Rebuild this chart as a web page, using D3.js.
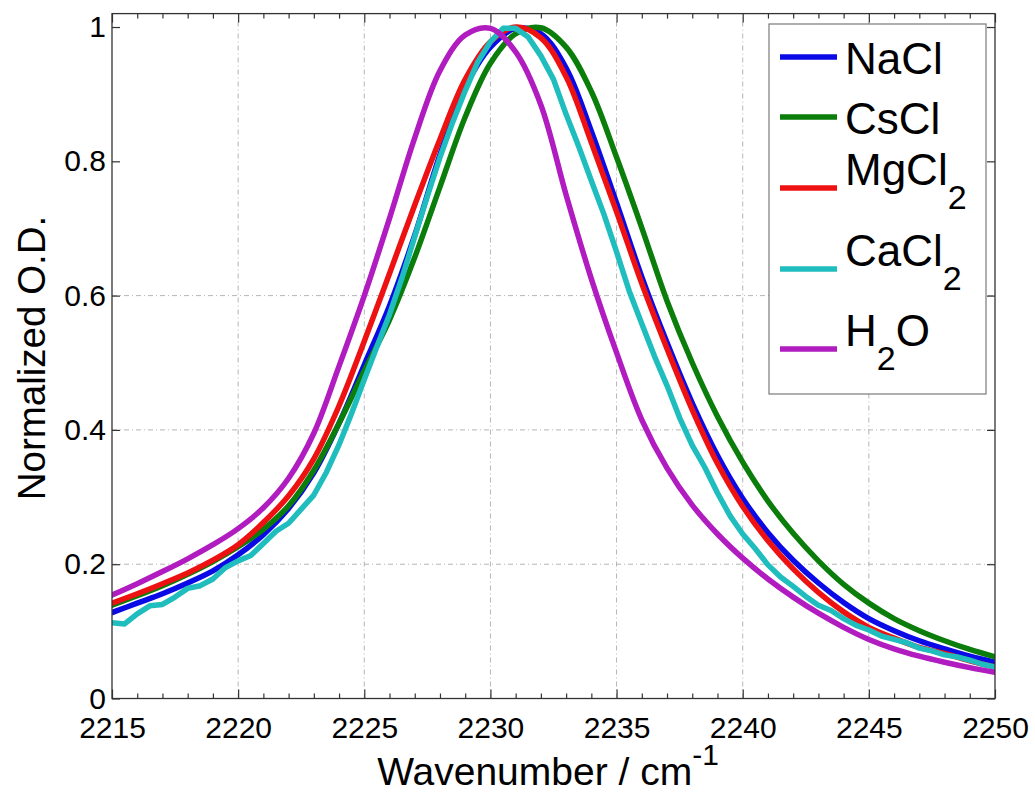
<!DOCTYPE html>
<html>
<head>
<meta charset="utf-8">
<script src="https://cdn.jsdelivr.net/npm/d3@7"></script>
<style>
  body { margin: 0; background: #fff; }
  text { font-family: "Liberation Sans", Arial, Helvetica, sans-serif; fill: #000; }
</style>
</head>
<body>
<div id="chart"></div>
<script>
// wavenumber grid (cm^-1) for the smooth spectra
var wavenumber = [2215, 2216, 2217, 2218, 2219, 2220, 2221, 2222, 2223, 2224,
                  2225, 2226, 2227, 2228, 2229, 2230, 2231, 2232, 2233, 2234,
                  2235, 2236, 2237, 2238, 2239, 2240, 2241, 2242, 2243, 2244,
                  2245, 2246, 2247, 2248, 2249, 2250];

// the CaCl2 spectrum is noisier, read at half steps
var cacl2Wavenumber = [2215, 2215.5, 2216, 2216.5, 2217, 2217.5, 2218, 2218.5, 2219, 2219.5,
                       2220, 2220.5, 2221, 2221.5, 2222, 2222.5, 2223, 2223.5, 2224, 2224.5,
                       2225, 2225.5, 2226, 2226.5, 2227, 2227.5, 2228, 2228.5, 2229, 2229.5,
                       2230, 2230.5, 2231, 2231.5, 2232, 2232.5, 2233, 2233.5, 2234, 2234.5,
                       2235, 2235.5, 2236, 2236.5, 2237, 2237.5, 2238, 2238.5, 2239, 2239.5,
                       2240, 2240.5, 2241, 2241.5, 2242, 2242.5, 2243, 2243.5, 2244, 2244.5,
                       2245, 2245.5, 2246, 2246.5, 2247, 2247.5, 2248, 2248.5, 2249, 2249.5,
                       2250];

var naclOD = [0.128, 0.142, 0.156, 0.172, 0.190, 0.214, 0.244, 0.283, 0.336, 0.410,
              0.497, 0.585, 0.690, 0.810, 0.910, 0.970, 0.998, 0.990, 0.939, 0.845,
              0.738, 0.628, 0.530, 0.440, 0.362, 0.298, 0.247, 0.206, 0.172, 0.143,
              0.119, 0.101, 0.086, 0.074, 0.063, 0.054];

var csclOD = [0.139, 0.153, 0.168, 0.185, 0.204, 0.226, 0.252, 0.287, 0.340, 0.410,
              0.488, 0.564, 0.657, 0.762, 0.866, 0.946, 0.990, 0.999, 0.970, 0.904,
              0.806, 0.701, 0.592, 0.500, 0.420, 0.352, 0.294, 0.246, 0.205, 0.170,
              0.142, 0.119, 0.101, 0.086, 0.073, 0.062];

var mgcl2OD = [0.142, 0.156, 0.171, 0.187, 0.206, 0.229, 0.262, 0.302, 0.357, 0.436,
               0.532, 0.633, 0.735, 0.833, 0.922, 0.978, 1.000, 0.984, 0.926, 0.828,
               0.725, 0.618, 0.521, 0.430, 0.350, 0.286, 0.235, 0.193, 0.158, 0.129,
               0.106, 0.090, 0.076, 0.067, 0.056, 0.047];

var cacl2OD = [0.113, 0.111, 0.126, 0.138, 0.140, 0.151, 0.164, 0.168, 0.178, 0.195,
               0.205, 0.213, 0.231, 0.249, 0.261, 0.282, 0.303, 0.337, 0.378, 0.425,
               0.475, 0.524, 0.572, 0.627, 0.688, 0.748, 0.806, 0.858, 0.905, 0.948,
               0.978, 0.998, 0.998, 0.985, 0.957, 0.922, 0.870, 0.822, 0.771, 0.721,
               0.665, 0.607, 0.558, 0.510, 0.466, 0.418, 0.377, 0.344, 0.306, 0.272,
               0.245, 0.223, 0.199, 0.181, 0.167, 0.152, 0.139, 0.131, 0.119, 0.109,
               0.102, 0.093, 0.088, 0.083, 0.075, 0.071, 0.065, 0.062, 0.057, 0.051,
               0.047];

var h2oOD = [0.154, 0.171, 0.189, 0.208, 0.229, 0.253, 0.284, 0.328, 0.395, 0.495,
             0.600, 0.715, 0.835, 0.935, 0.988, 0.998, 0.963, 0.884, 0.750, 0.625,
             0.515, 0.415, 0.343, 0.288, 0.245, 0.209, 0.178, 0.151, 0.127, 0.106,
             0.088, 0.074, 0.063, 0.054, 0.046, 0.039];

var xMajorTicks = [2215, 2220, 2225, 2230, 2235, 2240, 2245, 2250];
var xGridTicks = [2220, 2225, 2230, 2235, 2240, 2245];
var yTicks = [0, 0.2, 0.4, 0.6, 0.8, 1];
var yTickLabels = ["0", "0.2", "0.4", "0.6", "0.8", "1"];
var yGridTicks = [0.2, 0.4, 0.6];

// legend text: [main, subscript, tail]
var seriesLabels = [["NaCl", "", ""], ["CsCl", "", ""], ["MgCl", "2", ""], ["CaCl", "2", ""], ["H", "2", "O"]];
var seriesColors = ["#0a0ae6", "#0a7d0a", "#ee1111", "#1fbdbd", "#b01cc0"];

// Setup
var width = 1035;
var height = 799;

var x = d3.scaleLinear().domain([2215, 2250]).range([112, 995]);
var y = d3.scaleLinear().domain([0, 1.02]).range([698.5, 13.6]);

var svg = d3.select("#chart")
    .append("svg")
    .attr("width", width)
    .attr("height", height);

svg.append("rect").attr("width", width).attr("height", height).attr("fill", "#fff");

// grid
var grid = svg.append("g").attr("class", "grid")
    .attr("stroke", "#b5b5b5")
    .attr("stroke-width", 1)
    .attr("stroke-dasharray", "5,3,1,3");

grid.selectAll(".vgrid").data(xGridTicks).enter()
    .append("line")
    .attr("x1", function(d) { return x(d); })
    .attr("x2", function(d) { return x(d); })
    .attr("y1", y(0))
    .attr("y2", y(1.02));

grid.selectAll(".hgrid").data(yGridTicks).enter()
    .append("line")
    .attr("x1", x(2215))
    .attr("x2", x(2250))
    .attr("y1", function(d) { return y(d); })
    .attr("y2", function(d) { return y(d); });

// spectra
var series = [
    { xs: wavenumber, ys: naclOD, curve: d3.curveCatmullRom.alpha(0.5) },
    { xs: wavenumber, ys: csclOD, curve: d3.curveCatmullRom.alpha(0.5) },
    { xs: wavenumber, ys: mgcl2OD, curve: d3.curveCatmullRom.alpha(0.5) },
    { xs: cacl2Wavenumber, ys: cacl2OD, curve: d3.curveLinear },
    { xs: wavenumber, ys: h2oOD, curve: d3.curveCatmullRom.alpha(0.5) }
];

svg.append("clipPath").attr("id", "plotclip")
    .append("rect")
    .attr("x", x(2215)).attr("y", y(1.02))
    .attr("width", x(2250) - x(2215)).attr("height", y(0) - y(1.02));

var lines = svg.append("g").attr("clip-path", "url(#plotclip)");

series.forEach(function(s, i) {
    var pts = s.xs.map(function(v, j) { return [v, s.ys[j]]; });
    var line = d3.line()
        .x(function(d) { return x(d[0]); })
        .y(function(d) { return y(d[1]); })
        .curve(s.curve);
    lines.append("path")
        .attr("d", line(pts))
        .attr("fill", "none")
        .attr("stroke", seriesColors[i])
        .attr("stroke-width", 5.5)
        .attr("stroke-linejoin", "round")
        .attr("stroke-linecap", "round");
});

// axes (ticks point inwards)
var xMinorTicks = wavenumber.filter(function(v) { return v % 5 !== 0; });

function styleAxis(g, fontSize) {
    g.select(".domain").remove();
    g.selectAll("line").attr("stroke", "#333").attr("stroke-width", 1.2);
    g.selectAll("text").attr("font-size", fontSize).attr("fill", "#000")
        .style("font-family", '"Liberation Sans", Arial, sans-serif');
}

var bottomAxis = svg.append("g").attr("transform", "translate(0," + y(0) + ")")
    .call(d3.axisBottom(x).tickValues(xMajorTicks).tickSizeInner(-9).tickSizeOuter(0)
        .tickPadding(18).tickFormat(d3.format("d")));
styleAxis(bottomAxis, 30);

var bottomMinor = svg.append("g").attr("transform", "translate(0," + y(0) + ")")
    .call(d3.axisBottom(x).tickValues(xMinorTicks).tickSizeInner(-5).tickSizeOuter(0).tickFormat(""));
styleAxis(bottomMinor, 0);

var topAxis = svg.append("g").attr("transform", "translate(0," + y(1.02) + ")")
    .call(d3.axisTop(x).tickValues(xMajorTicks).tickSizeInner(-9).tickSizeOuter(0).tickFormat(""));
styleAxis(topAxis, 0);

var topMinor = svg.append("g").attr("transform", "translate(0," + y(1.02) + ")")
    .call(d3.axisTop(x).tickValues(xMinorTicks).tickSizeInner(-5).tickSizeOuter(0).tickFormat(""));
styleAxis(topMinor, 0);

var leftAxis = svg.append("g").attr("transform", "translate(" + x(2215) + ",0)")
    .call(d3.axisLeft(y).tickValues(yTicks).tickSizeInner(-8).tickSizeOuter(0)
        .tickPadding(6).tickFormat(function(d, i) { return yTickLabels[i]; }));
styleAxis(leftAxis, 30);

var rightAxis = svg.append("g").attr("transform", "translate(" + x(2250) + ",0)")
    .call(d3.axisRight(y).tickValues(yTicks).tickSizeInner(-8).tickSizeOuter(0).tickFormat(""));
styleAxis(rightAxis, 0);

// box
svg.append("rect")
    .attr("x", x(2215)).attr("y", y(1.02))
    .attr("width", x(2250) - x(2215)).attr("height", y(0) - y(1.02))
    .attr("fill", "none")
    .attr("stroke", "#333")
    .attr("stroke-width", 1.3);

// axis titles
svg.append("text")
    .attr("x", 548)
    .attr("y", 785)
    .attr("text-anchor", "middle")
    .attr("font-size", 39)
    .text("Wavenumber / cm")
    .append("tspan")
    .attr("dy", -20)
    .attr("font-size", 30)
    .text("-1");

svg.append("text")
    .attr("transform", "translate(45,358) rotate(-90)")
    .attr("text-anchor", "middle")
    .attr("font-size", 38.5)
    .text("Normalized O.D.");

// legend
var legend = svg.append("g");
legend.append("rect")
    .attr("x", 769).attr("y", 24)
    .attr("width", 217).attr("height", 370)
    .attr("fill", "#fff")
    .attr("stroke", "#7a7a7a")
    .attr("stroke-width", 1.2);

var legendLineY = [57, 117, 188, 269, 349];

seriesLabels.forEach(function(lab, i) {
    var ly = legendLineY[i];
    legend.append("line")
        .attr("x1", 780).attr("x2", 837)
        .attr("y1", ly).attr("y2", ly)
        .attr("stroke", seriesColors[i])
        .attr("stroke-width", 5.5);
    var hasSub = lab[1] !== "";
    var t = legend.append("text")
        .attr("x", 845)
        .attr("y", hasSub ? ly - 3 : ly + 17)
        .attr("font-size", 44);
    t.append("tspan").text(lab[0]);
    if (hasSub) {
        t.append("tspan").attr("dy", 24).attr("font-size", 34).text(lab[1]);
        if (lab[2]) {
            t.append("tspan").attr("dy", -24).attr("font-size", 44).text(lab[2]);
        }
    }
});
</script>
</body>
</html>
